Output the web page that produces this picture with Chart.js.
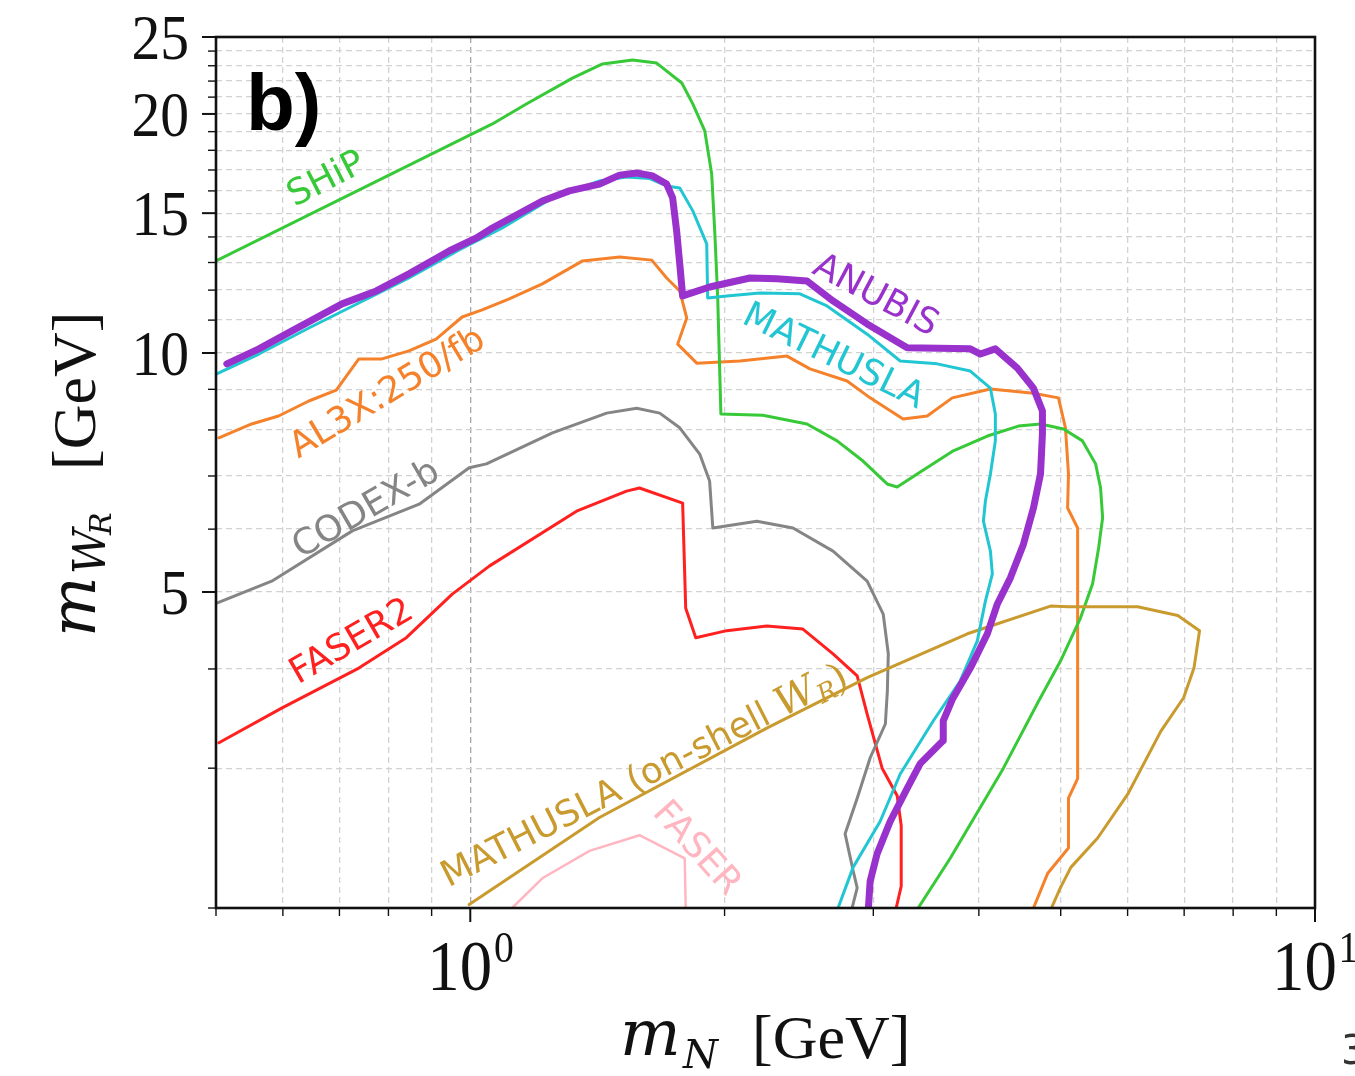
<!DOCTYPE html>
<html>
<head>
<meta charset="utf-8">
<script src="https://cdn.jsdelivr.net/npm/chart.js@4.4.0/dist/chart.umd.min.js"></script>
<style>
  html, body { margin: 0; padding: 0; background: #fff; overflow: hidden; }
  canvas { display: block; }
</style>
</head>
<body>
<canvas id="wrChart" width="1355" height="1076"></canvas>
<script>
// m_N [GeV] (x) vs m_WR [GeV] (y), sensitivity contours
const shipX = [0.5, 1.062, 1.165, 1.321, 1.434, 1.556, 1.662, 1.78, 1.834, 1.895, 1.931, 1.947, 1.963, 1.98, 2.22, 2.504, 2.718, 2.917, 3.115, 3.202, 3.381, 3.731, 4.094, 4.456, 4.732, 5.038, 5.306, 5.499, 5.574, 5.605, 5.544, 5.454, 5.278, 4.995, 4.705, 4.277, 3.70, 3.39];
const shipY = [13.06, 19.43, 20.59, 22.19, 23.12, 23.39, 23.18, 21.88, 20.59, 19.04, 16.8, 14.25, 11.73, 8.38, 8.35, 8.14, 7.75, 7.31, 6.84, 6.78, 7.04, 7.53, 7.86, 8.09, 8.14, 8.02, 7.75, 7.25, 6.76, 6.2, 5.68, 5.12, 4.64, 4.09, 3.64, 3.0, 2.31, 2.0];

const anubisX = [0.515, 0.562, 0.615, 0.705, 0.774, 0.846, 0.944, 1.017, 1.062, 1.217, 1.31, 1.422, 1.502, 1.574, 1.644, 1.708, 1.736, 1.755, 1.77, 1.784, 1.92, 2.143, 2.307, 2.504, 2.688, 2.95, 3.29, 3.908, 4.017, 4.184, 4.443, 4.642, 4.757, 4.757, 4.732, 4.642, 4.516, 4.359, 4.207, 4.094, 3.908, 3.72, 3.63, 3.63, 3.409, 3.29, 3.141, 3.031, 2.974, 2.96];
const anubisY = [9.69, 10.12, 10.66, 11.53, 11.97, 12.58, 13.44, 13.96, 14.37, 15.54, 16.0, 16.32, 16.75, 16.85, 16.71, 16.32, 15.68, 14.25, 12.95, 11.8, 12.11, 12.43, 12.40, 12.32, 11.63, 10.88, 10.15, 10.12, 9.97, 10.12, 9.57, 9.03, 8.45, 7.91, 7.04, 6.38, 5.74, 5.21, 4.83, 4.43, 4.01, 3.66, 3.44, 3.25, 3.04, 2.83, 2.57, 2.34, 2.16, 2.0];

const mathuslaX = [0.501, 0.562, 0.644, 0.738, 0.846, 0.97, 1.091, 1.251, 1.422, 1.531, 1.631, 1.708, 1.77, 1.834, 1.905, 1.91, 2.012, 2.202, 2.456, 2.644, 2.95, 3.228, 3.571, 3.908, 4.128, 4.184, 4.184, 4.128, 4.072, 4.05, 4.128, 4.15, 4.072, 3.983, 3.80, 3.532, 3.228, 3.056, 2.839, 2.725];
const mathuslaY = [9.41, 9.97, 10.75, 11.56, 12.43, 13.48, 14.37, 15.68, 16.47, 16.66, 16.58, 16.23, 16.14, 15.10, 13.72, 11.73, 11.8, 11.9, 11.87, 11.46, 10.56, 9.77, 9.69, 9.49, 9.03, 8.38, 7.75, 7.04, 6.51, 6.14, 5.63, 5.27, 4.87, 4.34, 3.86, 3.44, 2.95, 2.57, 2.25, 2.0];

const al3xX = [0.504, 0.551, 0.593, 0.644, 0.694, 0.738, 0.786, 0.846, 0.911, 0.978, 1.033, 1.112, 1.217, 1.358, 1.502, 1.64, 1.708, 1.77, 1.804, 1.76, 1.854, 2.085, 2.371, 2.524, 2.793, 2.974, 3.254, 3.475, 3.72, 4.128, 4.642, 4.969, 5.065, 5.107, 5.095, 5.236, 5.236, 5.107, 5.107, 4.824, 4.642];
const al3xY = [7.82, 8.14, 8.33, 8.70, 8.98, 9.83, 9.83, 10.06, 10.41, 11.10, 11.33, 11.70, 12.22, 13.06, 13.21, 13.09, 12.43, 11.97, 11.07, 10.26, 9.71, 9.77, 9.91, 9.55, 9.22, 8.78, 8.26, 8.33, 8.78, 9.01, 8.90, 8.78, 8.05, 7.04, 6.38, 6.02, 2.91, 2.75, 2.38, 2.21, 2.0];

const codexX = [0.501, 0.582, 0.725, 0.87, 0.997, 1.045, 1.251, 1.45, 1.574, 1.676, 1.77, 1.869, 1.92, 1.937, 2.184, 2.41, 2.688, 2.95, 3.082, 3.125, 3.117, 3.10, 2.974, 2.871, 2.778, 2.839, 2.871, 2.831];
const codexY = [4.84, 5.16, 5.97, 6.45, 7.17, 7.25, 7.93, 8.40, 8.52, 8.40, 8.05, 7.46, 6.90, 6.02, 6.14, 6.02, 5.63, 5.16, 4.69, 4.18, 3.75, 3.41, 3.09, 2.75, 2.48, 2.23, 2.12, 2.0];

const faser2X = [0.504, 0.598, 0.738, 0.84, 0.952, 1.053, 1.336, 1.531, 1.586, 1.784, 1.799, 1.849, 2.012, 2.244, 2.476, 2.688, 2.871, 2.95, 3.073, 3.202, 3.237, 3.237, 3.193];
const faser2Y = [3.23, 3.57, 4.01, 4.38, 4.97, 5.39, 6.32, 6.70, 6.76, 6.47, 4.77, 4.38, 4.47, 4.53, 4.49, 4.18, 3.92, 3.51, 3.00, 2.77, 2.54, 2.13, 2.0];

const onShellX = [0.997, 1.422, 2.244, 2.95, 3.877, 4.863, 5.107, 6.166, 6.88, 7.30, 7.19, 6.99, 6.57, 6.00, 5.53, 5.14, 4.995, 4.875];
const onShellY = [2.02, 2.60, 3.37, 3.90, 4.43, 4.80, 4.79, 4.79, 4.67, 4.47, 4.01, 3.68, 3.34, 2.78, 2.45, 2.25, 2.12, 2.0];

const faserX = [1.121, 1.217, 1.384, 1.586, 1.794, 1.799];
const faserY = [2.0, 2.18, 2.36, 2.47, 2.31, 2.0];

// axis ticks / grid
const xGridValues = [0.5, 0.6, 0.7, 0.8, 0.9, 1, 2, 3, 4, 5, 6, 7, 8, 9, 10];
const xMajorValues = [1, 10];
const xExponents = ['0', '1'];
const yGridValues = [2, 3, 4, 5, 6, 7, 8, 9, 10, 11, 12, 13, 14, 15, 16, 17, 18, 19, 20, 21, 22, 23, 24, 25];
const yTickLabels = [5, 10, 15, 20, 25];

const colors = {
  ship: '#37c937',
  anubis: '#9932cc',
  mathusla: '#22c6d2',
  al3x: '#f5822b',
  codex: '#858585',
  faser2: '#ff2020',
  onShell: '#c99a2e',
  faser: '#ffb6c1'
};

const toPoints = (xs, ys) => xs.map((v, i) => ({ x: v, y: ys[i] }));

function curve(label, xs, ys, color, width) {
  return {
    label: label,
    data: toPoints(xs, ys),
    showLine: true,
    borderColor: color,
    backgroundColor: color,
    borderWidth: width,
    pointRadius: 0,
    tension: 0,
    borderJoinStyle: 'round',
    borderCapStyle: 'round',
    fill: false
  };
}

const sans = '"DejaVu Sans", sans-serif';
const serif = '"Liberation Serif", "DejaVu Serif", serif';
const italicSerif = '"DejaVu Serif", serif';
const labelFont = '36px ' + sans;

const curveLabels = [
  { x: 0.673, y: 16.66, angle: -27, color: colors.ship, parts: [{ t: 'SHiP', f: labelFont }] },
  { x: 0.795, y: 8.96, angle: -31, color: colors.al3x, parts: [{ t: 'AL3X:250/fb', f: labelFont }] },
  { x: 0.750, y: 6.40, angle: -30, color: colors.codex, parts: [{ t: 'CODEX-b', f: labelFont }] },
  { x: 0.721, y: 4.36, angle: -30, color: colors.faser2, parts: [{ t: 'FASER2', f: labelFont }] },
  { x: 3.03, y: 11.9, angle: 28, color: colors.anubis, parts: [{ t: 'ANUBIS', f: labelFont }] },
  { x: 2.70, y: 9.97, angle: 26, color: colors.mathusla, parts: [{ t: 'MATHUSLA', f: labelFont }] },
  { x: 1.60, y: 2.95, angle: -27, color: colors.onShell, parts: [
    { t: 'MATHUSLA (on-shell ', f: labelFont },
    { t: 'W', f: 'italic 40px ' + italicSerif },
    { t: 'R', f: 'italic 26px ' + italicSerif, dy: 6 },
    { t: ')', f: '40px ' + serif }
  ] },
  { x: 1.864, y: 2.39, angle: 48, color: colors.faser, parts: [{ t: 'FASER', f: labelFont }] }
];

function drawRotated(ctx, parts, cx, cy, angle, color) {
  ctx.save();
  ctx.translate(cx, cy);
  ctx.rotate(angle * Math.PI / 180);
  ctx.fillStyle = color;
  ctx.textAlign = 'left';
  ctx.textBaseline = 'alphabetic';
  let total = 0;
  const widths = parts.map(p => { ctx.font = p.f; const w = ctx.measureText(p.t).width; total += w; return w; });
  let xx = -total / 2;
  parts.forEach((p, i) => {
    ctx.font = p.f;
    ctx.fillText(p.t, xx, 13 + (p.dy || 0));
    xx += widths[i];
  });
  ctx.restore();
}

const decorations = {
  id: 'decorations',
  afterDatasetsDraw(chart) {
    const { ctx, chartArea: a, scales: { x, y } } = chart;
    curveLabels.forEach(l => {
      drawRotated(ctx, l.parts, x.getPixelForValue(l.x), y.getPixelForValue(l.y), l.angle, l.color);
    });
    ctx.save();
    ctx.fillStyle = '#000';
    ctx.font = 'bold 80px "Liberation Sans", sans-serif';
    ctx.fillText('b)', a.left + 30, a.top + 93);
    ctx.restore();
  },
  afterDraw(chart) {
    const { ctx, chartArea: a, scales: { x, y } } = chart;
    ctx.save();
    ctx.strokeStyle = '#111';
    xGridValues.forEach(v => {
      const px = x.getPixelForValue(v);
      const major = xMajorValues.includes(v);
      ctx.lineWidth = major ? 2 : 1.4;
      ctx.beginPath();
      ctx.moveTo(px, a.bottom);
      ctx.lineTo(px, a.bottom + (major ? 14 : 8));
      ctx.stroke();
    });
    yGridValues.forEach(v => {
      const py = y.getPixelForValue(v);
      const major = yTickLabels.includes(v);
      ctx.lineWidth = major ? 2 : 1.4;
      ctx.beginPath();
      ctx.moveTo(a.left, py);
      ctx.lineTo(a.left - (major ? 14 : 8), py);
      ctx.stroke();
    });
    ctx.lineWidth = 2.6;
    ctx.strokeRect(a.left, a.top, a.right - a.left, a.bottom - a.top);

    // tick labels
    ctx.fillStyle = '#111';
    ctx.textAlign = 'right';
    ctx.textBaseline = 'alphabetic';
    ctx.font = '64px ' + serif;
    yTickLabels.forEach(v => {
      ctx.save();
      ctx.translate(a.left - 27, y.getPixelForValue(v) + 22);
      ctx.scale(0.9, 1);
      ctx.fillText(String(v), 0, 0);
      ctx.restore();
    });
    ctx.textAlign = 'left';
    xMajorValues.forEach((v, i) => {
      const px = x.getPixelForValue(v);
      ctx.save();
      ctx.translate(px - 43, 990);
      ctx.scale(0.9, 1);
      ctx.font = '72px ' + serif;
      ctx.fillText('10', 0, 0);
      const w = ctx.measureText('10').width;
      ctx.font = '44px ' + serif;
      ctx.fillText(xExponents[i], w + 2, -28);
      ctx.restore();
    });

    // axis titles
    ctx.font = 'italic 64px ' + italicSerif;
    ctx.fillText('m', 620, 1055);
    ctx.font = 'italic 40px ' + italicSerif;
    ctx.fillText('N', 683, 1068);
    ctx.font = '62px ' + serif;
    ctx.fillText('[GeV]', 752, 1058);

    ctx.save();
    ctx.translate(95, 637);
    ctx.rotate(-Math.PI / 2);
    ctx.font = 'italic 64px ' + italicSerif;
    ctx.fillText('m', 0, 0);
    const mw = ctx.measureText('m').width;
    ctx.font = 'italic 44px ' + italicSerif;
    ctx.fillText('W', mw + 2, 10);
    const ww = ctx.measureText('W').width;
    ctx.font = 'italic 30px ' + italicSerif;
    ctx.fillText('R', mw + ww - 4, 16);
    ctx.font = '62px ' + serif;
    ctx.fillText('[GeV]', 167, 0);
    ctx.restore();

    ctx.fillStyle = '#333';
    ctx.font = '40px ' + sans;
    ctx.fillText('3', 1341, 1064);
    ctx.restore();
  }
};

new Chart(document.getElementById('wrChart').getContext('2d'), {
  type: 'scatter',
  data: {
    datasets: [
      curve('ANUBIS', anubisX, anubisY, colors.anubis, 7),
      curve('MATHUSLA', mathuslaX, mathuslaY, colors.mathusla, 3),
      curve('MATHUSLA (on-shell W_R)', onShellX, onShellY, colors.onShell, 3),
      curve('SHiP', shipX, shipY, colors.ship, 3),
      curve('AL3X:250/fb', al3xX, al3xY, colors.al3x, 3),
      curve('CODEX-b', codexX, codexY, colors.codex, 3),
      curve('FASER2', faser2X, faser2Y, colors.faser2, 3),
      curve('FASER', faserX, faserY, colors.faser, 2.5)
    ]
  },
  options: {
    responsive: false,
    animation: false,
    devicePixelRatio: 1,
    layout: { padding: { left: 216, top: 37, right: 40, bottom: 168 } },
    plugins: {
      legend: { display: false },
      tooltip: { enabled: false }
    },
    scales: {
      x: {
        type: 'logarithmic',
        min: 0.5,
        max: 10,
        afterBuildTicks: (axis) => { axis.ticks = xGridValues.map(v => ({ value: v })); },
        ticks: { display: false },
        grid: {
          drawTicks: false,
          lineWidth: 1.3,
          color: (c) => (c.tick && xMajorValues.includes(c.tick.value)) ? '#a6a6a6' : '#d2d2d2'
        },
        border: { display: false, dash: [6, 4] }
      },
      y: {
        type: 'logarithmic',
        min: 2,
        max: 25,
        afterBuildTicks: (axis) => { axis.ticks = yGridValues.map(v => ({ value: v })); },
        ticks: { display: false },
        grid: {
          drawTicks: false,
          lineWidth: 1.3,
          color: '#d2d2d2'
        },
        border: { display: false, dash: [6, 4] }
      }
    }
  },
  plugins: [decorations]
});
</script>
</body>
</html>
